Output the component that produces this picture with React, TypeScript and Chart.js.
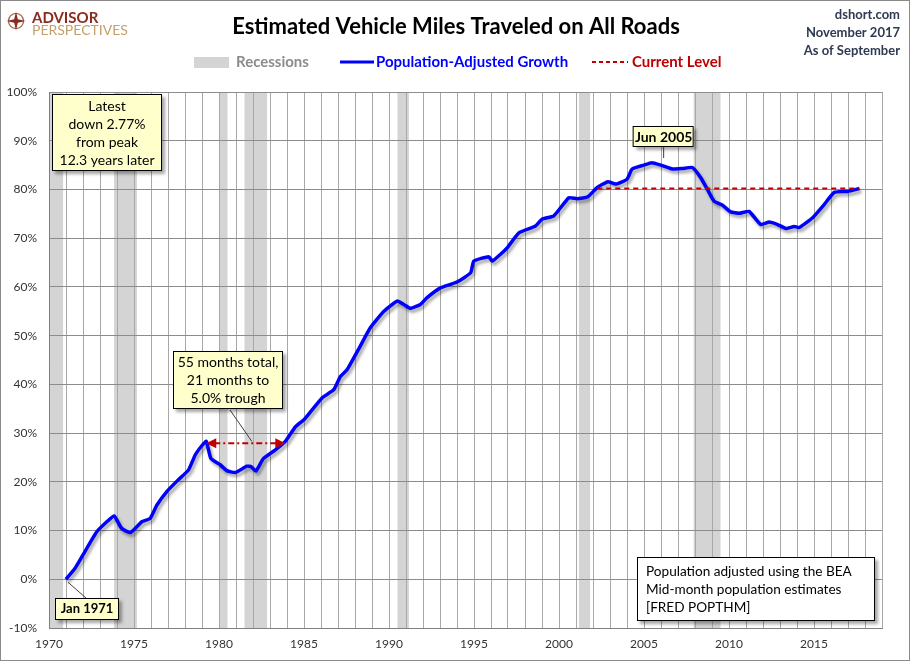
import React, { useEffect, useRef } from "react";
import { Chart, registerables } from "chart.js";

Chart.register(...registerables);

// ---- data ----
const dates = [
  1971.0, 1971.5, 1971.93, 1972.8, 1973.4, 1973.83, 1974.28, 1974.8, 1975.46, 1975.95,
  1976.34, 1976.93, 1977.6, 1978.2, 1978.6, 1978.99, 1979.25, 1979.52, 1980.07, 1980.46,
  1980.95, 1981.64, 1981.9, 1982.17, 1982.62, 1983.3, 1983.9, 1984.5, 1985.04, 1986.06,
  1986.75, 1987.14, 1987.53, 1988.3, 1988.9, 1989.7, 1990.48, 1990.87, 1991.26, 1991.85,
  1992.24, 1993.03, 1994.0, 1994.8, 1994.99, 1995.87, 1996.07, 1996.56, 1996.95, 1997.64,
  1998.62, 1999.0, 1999.7, 2000.58, 2001.08, 2001.7, 2002.25, 2002.88, 2003.33, 2004.0,
  2004.3, 2005.0, 2005.45, 2006.0, 2006.67, 2007.26, 2007.85, 2008.34, 2008.73, 2009.12,
  2009.6, 2010.1, 2010.6, 2011.18, 2011.87, 2012.36, 2012.86, 2013.35, 2013.83, 2014.13,
  2014.92, 2015.6, 2016.19, 2016.98, 2017.67,
];
const growth = [
  0.0, 2.1, 4.6, 9.7, 11.8, 13.0, 10.4, 9.6, 11.8, 12.5,
  15.2, 18.0, 20.4, 22.4, 25.5, 27.4, 28.3, 24.8, 23.5, 22.3,
  21.9, 23.2, 23.1, 22.2, 24.8, 26.5, 28.3, 31.3, 32.9, 37.2,
  38.9, 41.6, 43.0, 47.8, 51.6, 55.0, 57.1, 56.4, 55.6, 56.4,
  57.8, 59.8, 61.0, 62.9, 65.3, 66.2, 65.3, 66.7, 68.0, 71.1,
  72.5, 73.9, 74.6, 78.3, 78.1, 78.5, 80.4, 81.6, 81.1, 82.1,
  84.2, 85.0, 85.5, 85.0, 84.2, 84.3, 84.5, 82.4, 80.0, 77.6,
  76.8, 75.4, 75.1, 75.5, 72.8, 73.3, 72.8, 72.0, 72.4, 72.2,
  74.2, 76.9, 79.4, 79.6, 80.2,
];
const recessionStarts = [1969.92, 1973.83, 1980.0, 1981.5, 1990.5, 2001.17, 2007.92];
const recessionEnds = [1970.83, 1975.17, 1980.5, 1982.83, 1991.17, 2001.83, 2009.5];
const currentLevel = 80.2;
const currentLevelSpan = [2002.25, 2017.67];
const troughSpan = [1979.25, 1983.9];
const troughLevel = 27.9;
const peakDate = 2005.45;
const startDate = 1971.0;
const yTicks = [-10, 0, 10, 20, 30, 40, 50, 60, 70, 80, 90, 100];
const xMin = 1970;
const xMax = 2019;
const xLabelStep = 5;

const FONT = 'Lato, "Open Sans", "DejaVu Sans", sans-serif';

function drawBox(
  ctx: CanvasRenderingContext2D,
  x: number, y: number, w: number, h: number,
  fill: string, lines: string[], lineYs: number[], font: string,
  align: "center" | "left", textX: number
) {
  ctx.save();
  ctx.shadowColor = "rgba(0,0,0,0.35)";
  ctx.shadowBlur = 3;
  ctx.shadowOffsetX = 3;
  ctx.shadowOffsetY = 3;
  ctx.fillStyle = fill;
  ctx.fillRect(x, y, w, h);
  ctx.restore();
  ctx.save();
  ctx.strokeStyle = "#000";
  ctx.lineWidth = 1;
  ctx.strokeRect(x + 0.5, y + 0.5, w - 1, h - 1);
  ctx.fillStyle = "#000";
  ctx.font = font;
  ctx.textAlign = align;
  ctx.textBaseline = "middle";
  lines.forEach((t, i) => ctx.fillText(t, textX, lineYs[i]));
  ctx.restore();
}

function arrowHead(ctx: CanvasRenderingContext2D, x: number, y: number, dir: number) {
  ctx.beginPath();
  ctx.moveTo(x, y);
  ctx.lineTo(x - dir * 10, y - 5);
  ctx.lineTo(x - dir * 10, y + 5);
  ctx.closePath();
  ctx.fill();
}

const decorPlugin = {
  id: "decor",
  beforeDraw(chart: any) {
    const { ctx, chartArea, scales } = chart;
    const xs = scales.x;
    ctx.save();
    ctx.fillStyle = "#D4D4D4";
    recessionStarts.forEach((s, i) => {
      const x0 = Math.max(xs.getPixelForValue(s), chartArea.left);
      const x1 = Math.min(xs.getPixelForValue(recessionEnds[i]), chartArea.right);
      ctx.fillRect(x0, chartArea.top, x1 - x0, chartArea.bottom - chartArea.top);
    });
    ctx.restore();
  },
  beforeDatasetDraw(chart: any, args: any) {
    if (args.index === 1) {
      const ctx = chart.ctx;
      ctx.save();
      ctx.shadowColor = "rgba(0,0,0,0.35)";
      ctx.shadowBlur = 3;
      ctx.shadowOffsetX = 2;
      ctx.shadowOffsetY = 3;
    }
  },
  afterDatasetDraw(chart: any, args: any) {
    if (args.index === 1) chart.ctx.restore();
  },
  afterDraw(chart: any) {
    const { ctx, scales } = chart;
    const xs = scales.x;
    const ys = scales.y;

    // ---- header: logo ----
    ctx.save();
    const cx = 15, cy = 20;
    ctx.strokeStyle = "#9A5A3A";
    ctx.lineWidth = 1.2;
    ctx.beginPath();
    ctx.arc(cx, cy, 7.5, 0, Math.PI * 2);
    ctx.stroke();
    ctx.fillStyle = "#8B2A1E";
    ctx.beginPath();
    for (let k = 0; k < 8; k++) {
      const a = (k * Math.PI) / 4 - Math.PI / 2;
      const r = k % 2 === 0 ? 9.5 : 2.5;
      const px = cx + r * Math.cos(a);
      const py = cy + r * Math.sin(a);
      if (k === 0) ctx.moveTo(px, py); else ctx.lineTo(px, py);
    }
    ctx.closePath();
    ctx.fill();
    ctx.textBaseline = "alphabetic";
    ctx.textAlign = "left";
    ctx.font = `bold 15px ${FONT}`;
    ctx.fillStyle = "#8B2A1E";
    ctx.fillText("ADVISOR", 31, 22);
    ctx.font = `14px ${FONT}`;
    ctx.fillStyle = "#C4A06A";
    ctx.fillText("PERSPECTIVES", 31, 34);

    // ---- title ----
    ctx.font = `bold 22px ${FONT}`;
    ctx.fillStyle = "#000";
    ctx.textAlign = "center";
    ctx.textBaseline = "middle";
    ctx.fillText("Estimated Vehicle Miles Traveled on All Roads", 455, 26);

    // ---- top right ----
    ctx.font = `bold 13px ${FONT}`;
    ctx.fillStyle = "#2E3A50";
    ctx.textAlign = "right";
    ctx.fillText("dshort.com", 899, 14);
    ctx.fillText("November 2017", 899, 32);
    ctx.fillText("As of September", 899, 50);

    // ---- legend ----
    ctx.textAlign = "left";
    ctx.font = `bold 15px ${FONT}`;
    ctx.fillStyle = "#D4D4D4";
    ctx.fillRect(193, 56, 35, 11);
    ctx.fillStyle = "#8C8C8C";
    ctx.fillText("Recessions", 235, 61);
    ctx.strokeStyle = "#0000FF";
    ctx.lineWidth = 3;
    ctx.beginPath();
    ctx.moveTo(339, 61);
    ctx.lineTo(373, 61);
    ctx.stroke();
    ctx.fillStyle = "#0000FF";
    ctx.fillText("Population-Adjusted Growth", 375, 61);
    ctx.strokeStyle = "#C00000";
    ctx.lineWidth = 2;
    ctx.setLineDash([4, 3]);
    ctx.beginPath();
    ctx.moveTo(591, 61);
    ctx.lineTo(627, 61);
    ctx.stroke();
    ctx.setLineDash([]);
    ctx.fillStyle = "#C00000";
    ctx.fillText("Current Level", 631, 61);
    ctx.restore();

    // ---- trough arrow ----
    ctx.save();
    const ax0 = xs.getPixelForValue(troughSpan[0]);
    const ax1 = xs.getPixelForValue(troughSpan[1]);
    const ay = ys.getPixelForValue(troughLevel);
    ctx.strokeStyle = "#C00000";
    ctx.fillStyle = "#C00000";
    ctx.lineWidth = 2;
    ctx.setLineDash([6, 3, 2, 3]);
    ctx.beginPath();
    ctx.moveTo(ax0 + 8, ay);
    ctx.lineTo(ax1 - 8, ay);
    ctx.stroke();
    ctx.setLineDash([]);
    arrowHead(ctx, ax0, ay, -1);
    arrowHead(ctx, ax1, ay, 1);
    // leader
    ctx.strokeStyle = "#404040";
    ctx.lineWidth = 1;
    ctx.beginPath();
    ctx.moveTo(229, 409);
    ctx.lineTo((ax0 + ax1) / 2 + 6, ay - 2);
    ctx.stroke();
    // Jan 1971 leader
    ctx.beginPath();
    ctx.moveTo(xs.getPixelForValue(startDate) + 2, ys.getPixelForValue(0) + 3);
    ctx.lineTo(85, 597);
    ctx.stroke();
    // Jun 2005 leader
    const px = xs.getPixelForValue(peakDate) + 12;
    ctx.beginPath();
    ctx.moveTo(px, 146);
    ctx.lineTo(px, 157);
    ctx.stroke();
    ctx.restore();

    const f14 = `14px ${FONT}`;
    drawBox(ctx, 51, 93, 110, 77, "#FFFFCC",
      ["Latest", "down 2.77%", "from peak", "12.3 years later"],
      [105, 123, 141, 159], f14, "center", 106);
    drawBox(ctx, 172, 350, 110, 58, "#FFFFCC",
      ["55 months total,", "21 months to", "5.0% trough"],
      [361, 379, 397], f14, "center", 227);
    drawBox(ctx, px - 31, 125, 61, 21, "#FFFFCC",
      ["Jun 2005"], [136], `bold 14px ${FONT}`, "center", px);
    drawBox(ctx, 54, 597, 64, 22, "#FFFFCC",
      ["Jan 1971"], [608], `bold 13px ${FONT}`, "center", 86);
    drawBox(ctx, 636, 556, 238, 64, "#FFFFFF",
      ["Population adjusted using the BEA", "Mid-month population estimates", "[FRED POPTHM]"],
      [571, 589, 607], `13.6px ${FONT}`, "left", 645);
  },
};

export default function App() {
  const ref = useRef<HTMLCanvasElement | null>(null);

  useEffect(() => {
    document.body.style.margin = "0";
    if (!ref.current) return;
    const chart = new Chart(ref.current, {
      type: "line",
      data: {
        datasets: [
          {
            label: "Current Level",
            data: currentLevelSpan.map((x) => ({ x, y: currentLevel })),
            borderColor: "#C00000",
            borderWidth: 2,
            borderDash: [5, 4],
            pointRadius: 0,
            fill: false,
          },
          {
            label: "Population-Adjusted Growth",
            data: dates.map((x, i) => ({ x, y: growth[i] })),
            borderColor: "#0000FF",
            borderWidth: 3.5,
            pointRadius: 0,
            tension: 0.15,
            fill: false,
          },
        ],
      },
      options: {
        animation: false,
        responsive: false,
        maintainAspectRatio: false,
        layout: { padding: { top: 91, right: 27, left: 0, bottom: 0 } },
        plugins: { legend: { display: false }, tooltip: { enabled: false }, title: { display: false } },
        scales: {
          x: {
            type: "linear",
            min: xMin,
            max: xMax,
            afterFit: (s: any) => { s.height = 32; },
            afterBuildTicks: (s: any) => {
              const t = [];
              for (let v = xMin; v <= xMax; v++) t.push({ value: v });
              s.ticks = t;
            },
            ticks: {
              autoSkip: false,
              maxRotation: 0,
              padding: 9,
              color: "#333",
              font: { size: 12, family: FONT },
              callback: (v: any) => (Number(v) % xLabelStep === 0 ? String(v) : ""),
            },
            grid: { color: "#A8A8A8", drawTicks: false, lineWidth: 1 },
            border: { display: true, color: "#808080" },
          },
          y: {
            type: "linear",
            min: yTicks[0],
            max: yTicks[yTicks.length - 1],
            afterFit: (s: any) => { s.width = 48; },
            afterBuildTicks: (s: any) => { s.ticks = yTicks.map((v) => ({ value: v })); },
            ticks: {
              padding: 12,
              color: "#333",
              font: { size: 12, family: FONT },
              callback: (v: any) => `${v}%`,
            },
            grid: { color: "#8C8C8C", drawTicks: false, lineWidth: 1 },
            border: { display: true, color: "#808080" },
          },
        },
      },
      plugins: [decorPlugin],
    });
    return () => chart.destroy();
  }, []);

  return (
    <div style={{ position: "relative", width: 910, height: 661, boxSizing: "border-box", border: "1px solid #8a8a8a", overflow: "hidden", background: "#fff" }}>
      <canvas ref={ref} width={908} height={659} style={{ position: "absolute", left: 0, top: 0, width: 908, height: 659 }} />
    </div>
  );
}
